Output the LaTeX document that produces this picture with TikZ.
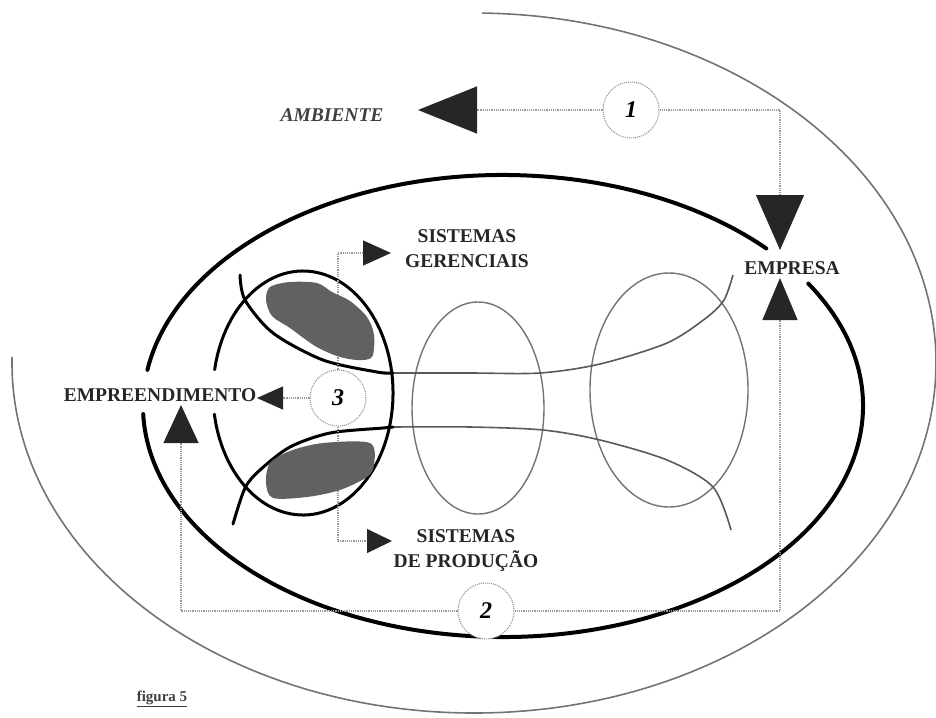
\documentclass[tikz,border=0pt]{standalone}
\usepackage{fontspec}
\setmainfont{Liberation Serif}
\usetikzlibrary{arrows.meta}

\begin{document}
\begin{tikzpicture}[x=1pt, y=-1pt,
    ring/.style={line width=1.6pt, color=black!55},
    cell/.style={line width=1.4pt, color=black!55},
    thread/.style={line width=1.6pt, color=black!65},
    heavy/.style={line width=4pt, line cap=round},
    medium/.style={line width=3pt, line cap=round},
    flow/.style={line width=1.2pt, color=black!40, densely dotted},
    blob/.style={fill=black!62},
    numcirc/.style={circle, draw=black!45, densely dotted, line width=1pt, fill=white,
        minimum size=56pt, inner sep=0pt, font=\fontsize{24}{24}\selectfont\bfseries\itshape},
    lbl/.style={font=\fontsize{19.5}{25}\selectfont\bfseries, text=black!85, inner sep=0pt, align=center}]
    \useasboundingbox (0,0) rectangle (936,717);

    % ambiente
    \draw[ring, shift={(474,363)}] (271:462 and 350) arc[start angle=271, end angle=541, x radius=462, y radius=350];

    % cells and funnel
    \draw[cell] (478,408) ellipse[x radius=66, y radius=106];
    \draw[cell] (669,390) ellipse[x radius=79, y radius=117];
    \draw[thread] plot[smooth] coordinates {(393,373) (470,373) (540,373) (600,364) (667,343) (706,318) (724,300) (733,275)};
    \draw[thread] plot[smooth] coordinates {(393,427) (470,427) (543,430) (600,440) (667,460) (713,487) (731,530)};
    \draw[medium] plot[smooth] coordinates {(240,275) (245,300) (273,333) (323,360) (377,372) (393,373)};
    \draw[medium] plot[smooth] coordinates {(233,524) (245,488) (260,470) (290,447) (330,433) (383,428) (393,427)};
    \draw[medium, shift={(303,393)}] (191:90 and 122) arc[start angle=191, end angle=530, x radius=90, y radius=122];

    % empresa
    \draw[heavy, shift={(503,406)}] (189:360 and 231) arc[start angle=189, end angle=317, x radius=360, y radius=231];
    \draw[heavy, shift={(503,406)}] (328:360 and 231) arc[start angle=328, end angle=538, x radius=360, y radius=231];

    \node[numcirc] (c1) at (631,110) {1};
    \node[numcirc] (c2) at (486,611) {2};
    \node[numcirc] (c3) at (338,398) {3};

    \node[lbl, font=\fontsize{19.5}{25}\selectfont\bfseries\itshape, text=black!75] (amb) at (332,115) {AMBIENTE};
    \node[lbl] (emp) at (792,268) {EMPRESA};
    \node[lbl] (ent) at (160,395) {EMPREENDIMENTO};
    \node[lbl] (ger) at (467,249) {SISTEMAS\\GERENCIAIS};
    \node[lbl] (prod) at (466,551) {SISTEMAS\\DE PRODUÇÃO};
    \node[font=\fontsize{15}{15}\selectfont\bfseries, text=black!75] (fig) at (162,699) {\underline{figura 5}};

    \coordinate (ambtip) at (418,110);
    \coordinate (empdown) at (780,250);
    \coordinate (empup) at (780,278);
    \coordinate (entup) at (181,405);
    \coordinate (entleft) at (257,398);
    \coordinate (gertip) at (391,253);
    \coordinate (prodtip) at (392,541);

    \draw[flow, -{Triangle[length=59pt, width=47pt, color=black!85]}] (c1.west) -- (ambtip);
    \draw[flow, -{Triangle[length=55pt, width=48pt, color=black!85]}] (c1.east) -| (empdown);
    \draw[flow, -{Triangle[length=42pt, width=35pt, color=black!85]}] (c2.east) -| (empup);
    \draw[flow, -{Triangle[length=38pt, width=35pt, color=black!85]}] (c2.west) -| (entup);
    \draw[flow, -{Triangle[length=26pt, width=23pt, color=black!85]}] (c3.west) -- (entleft);
    \draw[flow, -{Triangle[length=28pt, width=25pt, color=black!85]}] (c3.north) |- (gertip);
    \draw[flow, -{Triangle[length=25pt, width=24pt, color=black!85]}] (c3.south) |- (prodtip);

    % sistemas
    \fill[blob] plot[smooth cycle] coordinates {(270,287) (290,282) (317,283) (332,292) (350,301) (367,317) (374,335) (372,357) (357,360) (337,356) (315,346) (290,328) (272,316) (266,300)};
    \fill[blob] plot[smooth cycle] coordinates {(270,463) (290,451) (323,443) (370,443) (374,465) (367,477) (340,490) (307,497) (273,498) (266,483)};
\end{tikzpicture}
\end{document}
